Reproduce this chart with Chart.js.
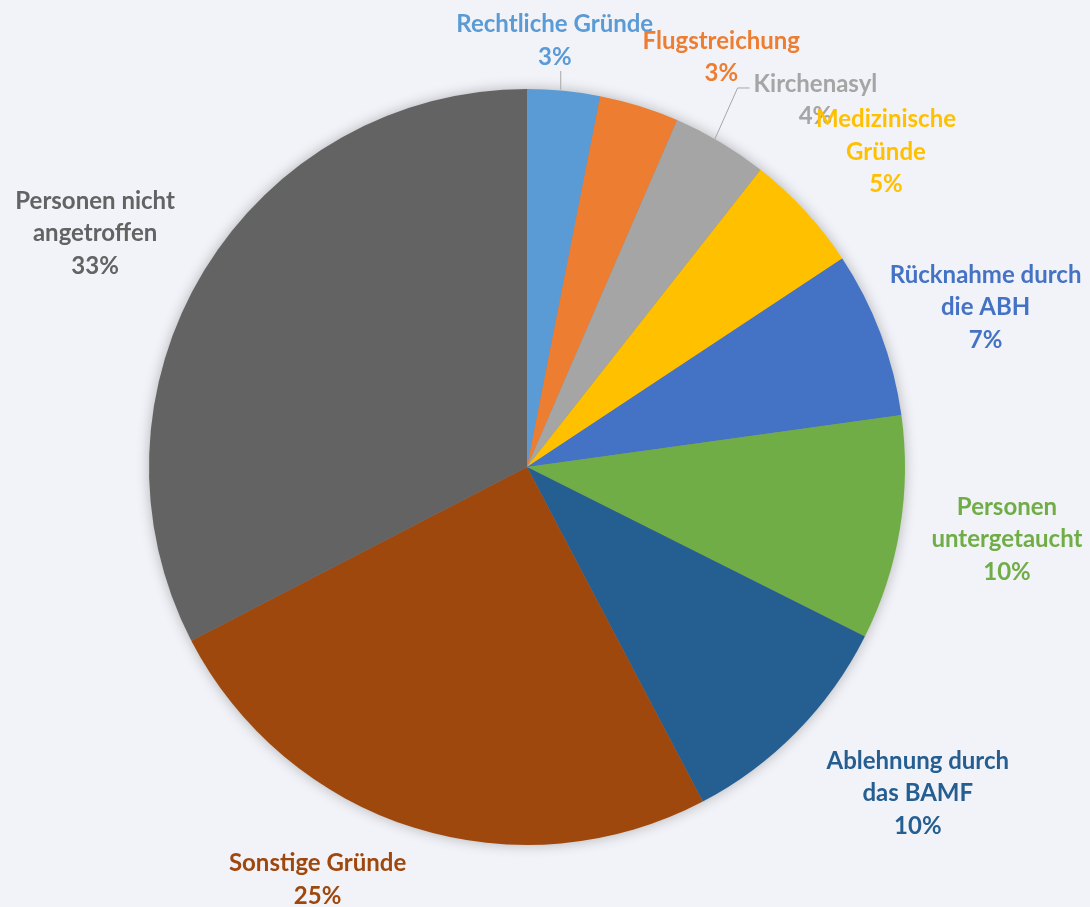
<!DOCTYPE html>
<html>
<head>
<meta charset="utf-8">
<script src="https://cdn.jsdelivr.net/npm/chart.js@4.4.1/dist/chart.umd.min.js"></script>
<style>
  html, body { margin: 0; padding: 0; background: #F2F3F8; }
  #wrap { width: 1090px; height: 907px; }
</style>
</head>
<body>
<div id="wrap"><canvas id="chart" width="1090" height="907"></canvas></div>
<script>
// data, clockwise from 12 o'clock
var categories = ['Rechtliche Gründe', 'Flugstreichung', 'Kirchenasyl', 'Medizinische Gründe',
  'Rücknahme durch die ABH', 'Personen untergetaucht', 'Ablehnung durch das BAMF',
  'Sonstige Gründe', 'Personen nicht angetroffen'];
var shares = [3.1, 3.4, 4.1, 5.1, 7.1, 9.6, 9.9, 25.1, 32.6];
var labelLines = [['Rechtliche Gründe'], ['Flugstreichung'], ['Kirchenasyl'], ['Medizinische', 'Gründe'],
  ['Rücknahme durch', 'die ABH'], ['Personen', 'untergetaucht'], ['Ablehnung durch', 'das BAMF'],
  ['Sonstige Gründe'], ['Personen nicht', 'angetroffen']];

var colors = ['#5B9BD5', '#ED7D31', '#A5A5A5', '#FFC000', '#4472C4', '#70AD47', '#255E91', '#9E480E', '#636363'];

// label block centre, relative to the slice's outer mid point (px)
var labelOffsets = [[-9, -50], [82, -49], [95, -42], [81, -59], [105, -26], [107, 11], [121, 62], [-96, 52], [-109, -37]];
var lineH = 32.5;
var labelFont = 'bold 24px Lato';

var total = shares.reduce(function(a, b) { return a + b; }, 0);

var pieExtras = {
  id: 'pieExtras',
  beforeDatasetsDraw: function(chart) {
    var a = chart.getDatasetMeta(0).data[0];
    var ctx = chart.ctx;
    ctx.save();
    ctx.shadowColor = 'rgba(0,0,0,0.3)';
    ctx.shadowBlur = 14;
    ctx.beginPath();
    ctx.arc(a.x, a.y, a.outerRadius - 1, 0, Math.PI * 2);
    ctx.fillStyle = '#888';
    ctx.fill();
    ctx.restore();
  },
  afterDatasetsDraw: function(chart) {
    var ctx = chart.ctx;
    var meta = chart.getDatasetMeta(0);
    ctx.save();
    ctx.font = labelFont;
    ctx.textAlign = 'center';
    ctx.textBaseline = 'middle';
    meta.data.forEach(function(a, i) {
      var mid = (a.startAngle + a.endAngle) / 2;
      var ex = a.x + Math.cos(mid) * a.outerRadius;
      var ey = a.y + Math.sin(mid) * a.outerRadius;
      var lx = ex + labelOffsets[i][0];
      var ly = ey + labelOffsets[i][1];
      var lines = labelLines[i].concat([Math.round(shares[i] / total * 100) + '%']);
      var top = ly - (lines.length - 1) * lineH / 2;

      // leader lines where the label sits away from its slice
      ctx.strokeStyle = '#A6A6A6';
      ctx.lineWidth = 1;
      if (i === 0) {
        ctx.beginPath();
        ctx.moveTo(ex - 3, ey - 1);
        ctx.lineTo(ex - 3, top + (lines.length - 1) * lineH + 14);
        ctx.stroke();
      }
      if (i === 2) {
        var w = ctx.measureText(lines[0]).width;
        ctx.beginPath();
        ctx.moveTo(ex - 7, ey);
        ctx.lineTo(lx - w / 2 - 16, top + 4);
        ctx.lineTo(lx - w / 2 - 4, top + 4);
        ctx.stroke();
      }

      ctx.fillStyle = colors[i];
      lines.forEach(function(t, k) {
        ctx.fillText(t, lx, top + k * lineH);
      });
    });
    ctx.restore();
  }
};

new Chart(document.getElementById('chart'), {
  type: 'pie',
  data: {
    labels: categories,
    datasets: [{
      data: shares,
      backgroundColor: colors,
      borderWidth: 0
    }]
  },
  options: {
    responsive: false,
    animation: false,
    devicePixelRatio: 1,
    layout: { padding: { left: 149, right: 185, top: 89, bottom: 62 } },
    plugins: {
      legend: { display: false },
      tooltip: { enabled: false }
    }
  },
  plugins: [pieExtras]
});
</script>
</body>
</html>
